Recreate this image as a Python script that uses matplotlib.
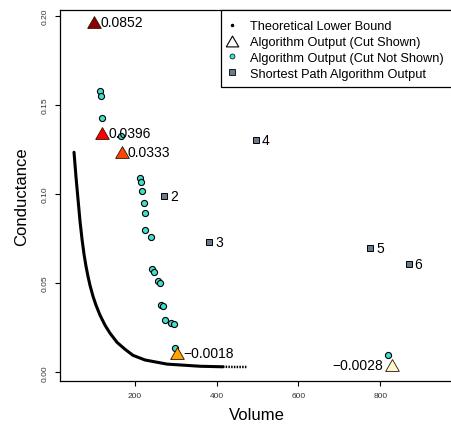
import matplotlib
matplotlib.use("Agg")
import matplotlib.pyplot as plt
from matplotlib.lines import Line2D
from matplotlib.patches import Rectangle

plt.rcParams['font.family'] = ['Liberation Sans', 'DejaVu Sans']

# theoretical lower bound
bound_vol = [50.7, 55.6, 60.5, 65.4, 70.3, 75.2, 80.1, 84.9, 89.8, 97.2, 104.6,
             114.4, 126.6, 138.9, 156.0, 175.6, 195.2, 224.6, 278.5, 359.3,
             415, 445, 474.4]
bound_cond = [0.1234, 0.1094, 0.0970, 0.0847, 0.0746, 0.0662, 0.0594, 0.0538,
              0.0488, 0.0426, 0.0376, 0.0320, 0.0264, 0.0219, 0.0168, 0.0129,
              0.0095, 0.0069, 0.0046, 0.0034, 0.0031, 0.0030, 0.0030]

# algorithm output, cut not shown
hidden_vol = [114, 116, 119, 166, 211, 215, 216, 221, 224, 225, 238, 242, 247,
              255, 261, 264, 269, 273, 288, 295, 299, 819]
hidden_cond = [0.1579, 0.1551, 0.1428, 0.1325, 0.1090, 0.1069, 0.1019, 0.0951,
               0.0893, 0.0796, 0.0757, 0.0579, 0.0564, 0.0512, 0.0499, 0.0379,
               0.0374, 0.0295, 0.0277, 0.0271, 0.0135, 0.0099]

# algorithm output, cut shown
shown_vol = [100, 120, 167, 303, 830]
shown_cond = [0.1963, 0.1342, 0.1234, 0.0107, 0.0042]
shown_labels = ["0.0852", "0.0396", "0.0333", "\u22120.0018", "\u22120.0028"]
shown_colors = ["#8b0000", "#ff0000", "#ff4500", "#ffa500", "#fffacd"]

# shortest path algorithm output
sp_vol = [272, 382, 496, 776, 870]
sp_cond = [0.0989, 0.0729, 0.1301, 0.0695, 0.0607]
sp_labels = ["2", "3", "4", "5", "6"]

# equilateral triangle, centred on its bounding box (like R's pch 24)
tri = [(-1, -0.866), (1, -0.866), (0, 0.866), (-1, -0.866)]

W, H = 451, 427
fig = plt.figure(figsize=(W / 100, H / 100), dpi=100)
ax = fig.add_axes([60 / W, 45.3 / H, 404 / W, 370.7 / H])

solid = [i for i, v in enumerate(bound_vol) if v <= 415]
tail = [i for i, v in enumerate(bound_vol) if v >= 415]
ax.plot([bound_vol[i] for i in solid], [bound_cond[i] for i in solid],
        color='black', lw=2.2, solid_capstyle='round', solid_joinstyle='round',
        zorder=2)
ax.plot([bound_vol[i] for i in tail], [bound_cond[i] for i in tail],
        color='black', lw=1.8, linestyle=(0, (0.6, 0.5)), zorder=2)

ax.plot(hidden_vol, hidden_cond, 'o', ms=4.4, mfc='#40e0d0', mec='black',
        mew=0.8, zorder=3)

for v, c, lab, col in zip(shown_vol, shown_cond, shown_labels, shown_colors):
    ax.plot(v, c, marker=tri, ms=9.8, mfc=col, mec='#2a1000', mew=0.6,
            zorder=4)
    if lab.startswith("\u2212") and v > 600:
        ax.annotate(lab, (v, c), xytext=(-6.5, 0), textcoords='offset points',
                    ha='right', va='center', fontsize=10)
    else:
        ax.annotate(lab, (v, c), xytext=(4.5, 0), textcoords='offset points',
                    ha='left', va='center', fontsize=10)

ax.plot(sp_vol, sp_cond, 's', ms=4.3, mfc='#6c7b8b', mec='black', mew=0.7,
        zorder=3)
for v, c, lab in zip(sp_vol, sp_cond, sp_labels):
    ax.annotate(lab, (v, c), xytext=(4.2, 0), textcoords='offset points',
                ha='left', va='center', fontsize=10)

ax.set_xlim(16.4, 1005)
ax.set_ylim(-0.0047, 0.2032)
ax.set_xticks([200, 400, 600, 800])
ax.set_yticks([0.0, 0.05, 0.10, 0.15, 0.20])
ax.set_yticklabels(["0.00", "0.05", "0.10", "0.15", "0.20"], rotation=90,
                   va='center')
ax.tick_params(labelsize=6, length=3.6, width=0.8, pad=4.5,
               labelcolor='#333333')
for s in ax.spines.values():
    s.set_linewidth(0.9)
ax.spines['right'].set_visible(False)

ax.set_xlabel("Volume", fontsize=12)
ax.set_ylabel("Conductance", fontsize=12)
ax.xaxis.set_label_coords((257 - 60) / 404, -(415.7 - 381.7) / 370.7)
ax.yaxis.set_label_coords(-(60 - 21.5) / 404, 0.5)
ax.xaxis.label.set_va('center')
ax.yaxis.label.set_va('center')

# legend box drawn by hand so the padding matches the original
box = Rectangle((221 / W, (H - 88.3) / H), 0.6, (88.3 - 11) / H,
                transform=fig.transFigure, facecolor='white',
                edgecolor='black', lw=0.9, zorder=4.9, clip_on=False)
fig.add_artist(box)

handles = [
    Line2D([], [], ls='none', marker='.', ms=3, color='black'),
    Line2D([], [], ls='none', marker=tri, ms=9, mfc='white', mec='black',
           mew=0.8),
    Line2D([], [], ls='none', marker='o', ms=3.6, mfc='#40e0d0', mec='black',
           mew=0.5),
    Line2D([], [], ls='none', marker='s', ms=4, mfc='#6c7b8b', mec='black',
           mew=0.6),
]
labels = ["Theoretical Lower Bound", "Algorithm Output (Cut Shown)",
          "Algorithm Output (Cut Not Shown)", "Shortest Path Algorithm Output"]
leg = fig.legend(handles, labels, loc='upper left',
                 bbox_to_anchor=(228.8 / W, (H - 21.4) / H),
                 bbox_transform=fig.transFigure, borderaxespad=0,
                 fontsize=9.2, borderpad=0, handlelength=0.5,
                 handletextpad=1.16, labelspacing=0.29, frameon=False,
                 numpoints=1)
leg.set_zorder(5)

fig.savefig("out.png", dpi=100)
